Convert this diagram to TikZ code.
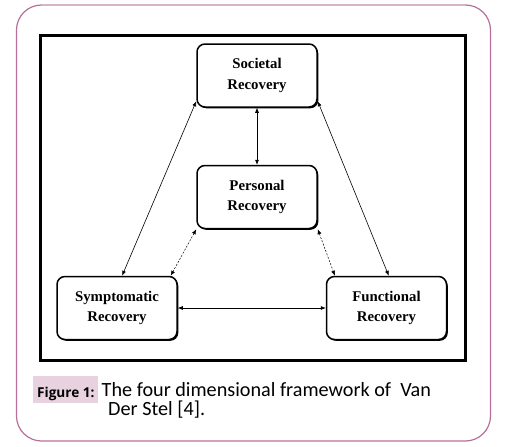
\documentclass[tikz,border=0pt]{standalone}
\usepackage{fontspec}
\setmainfont{Liberation Serif}
\newfontfamily\capfont{Carlito}
\newfontfamily\figfont{Open Sans}
\usetikzlibrary{arrows.meta,shadows}
\definecolor{framepink}{HTML}{B8709A}
\definecolor{framelight}{HTML}{D9B3C9}
\definecolor{labelpink}{HTML}{E8D2DF}
\tikzset{
  recbox/.style={draw=black, line width=1.5pt, fill=white, rounded corners=8pt,
    minimum width=120pt, minimum height=63pt, align=center, inner sep=0pt,
    font=\bfseries\fontsize{14.8}{20.5}\selectfont,
    drop shadow={shadow xshift=1.3pt, shadow yshift=-1.3pt, fill=black, opacity=1}},
  link/.style={{Latex[length=5pt,width=4pt]}-{Latex[length=5pt,width=4pt]}, line width=0.6pt},
  dlink/.style={link, line width=0.5pt, dash pattern=on 2pt off 1.5pt},
}
\begin{document}
\begin{tikzpicture}[x=1pt,y=-1pt]
\useasboundingbox (0,0) rectangle (507,447);
% outer frame
\draw[framepink, line width=1.2pt, rounded corners=25pt] (16.5,5) rectangle (490.5,441);
\draw[framelight, line width=1.4pt] (42,5) -- (465,5);
% inner frame
\draw[line width=3pt] (40.5,35.5) rectangle (465,360.5);
% nodes
\node[recbox] (soc) at (257,75.5) {Societal\\Recovery};
\node[recbox] (pers) at (257,197) {Personal\\Recovery};
\node[recbox] (sym) at (117,308) {Symptomatic\\Recovery};
\node[recbox] (func) at (386.5,308) {Functional\\Recovery};
% connectors
\draw[link] (soc.south) -- (pers.north);
\draw[link] (soc.203.4) -- (sym.81);
\draw[link] (soc.-23.4) -- (func.86);
\draw[dlink] (pers.south west) -- (sym.31);
\draw[dlink] (pers.south east) -- (func.148.6);
\draw[link] (sym.east) -- (func.west);
% caption
\fill[labelpink] (33,376) rectangle (98,403);
\node[anchor=base west, inner sep=0pt, font=\figfont\bfseries\fontsize{13.6}{15}\selectfont] (figlab) at (37,397) {Figure 1:};
\node[anchor=base west, inner sep=0pt, font=\capfont\fontsize{20.2}{22}\selectfont] (cap1) at (101.5,396) {The four dimensional framework of \ Van};
\node[anchor=base west, inner sep=0pt, font=\capfont\fontsize{20.2}{22}\selectfont] (cap2) at (108,415) {Der Stel [4].};
\end{tikzpicture}
\end{document}
